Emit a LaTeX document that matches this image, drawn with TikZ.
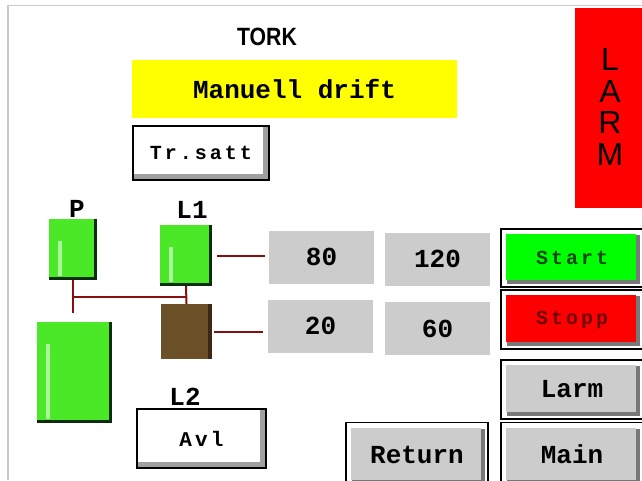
\documentclass[tikz,border=0pt]{standalone}
\usepackage{fontspec}
\usepackage{tikz}
\newfontfamily\pixfam{Liberation Mono}
\newfontfamily\pixspfam{Liberation Mono}[LetterSpace=15]
\newfontfamily\headfam{Liberation Sans}[FakeStretch=0.85]
\newfontfamily\larmfam{Liberation Sans}
\definecolor{framegray}{RGB}{200,202,200}
\definecolor{modeyellow}{RGB}{255,255,0}
\definecolor{alarmred}{RGB}{255,0,0}
\definecolor{tankgreen}{RGB}{75,232,40}
\definecolor{tankdark}{RGB}{10,45,10}
\definecolor{valvebrown}{RGB}{108,80,40}
\definecolor{valvedark}{RGB}{60,40,20}
\definecolor{valgray}{RGB}{204,204,204}
\definecolor{btngray}{RGB}{204,204,204}
\definecolor{btnshade}{RGB}{120,120,120}
\definecolor{pipered}{RGB}{135,15,15}
\definecolor{startgreen}{RGB}{0,255,0}
\definecolor{starttext}{RGB}{20,70,20}
\definecolor{stopptext}{RGB}{110,0,0}

\begin{document}
\begin{tikzpicture}[x=1pt,y=-1pt,
  pix/.style={font=\pixfam\bfseries\fontsize{26}{26}\selectfont},
  pixsp/.style={font=\pixspfam\bfseries\fontsize{#1}{#1}\selectfont},
  tank/.style={shape=rectangle,inner sep=0pt,fill=tankgreen,path picture={
    \fill[white,opacity=0.55] ([shift={(9pt,-22pt)}]path picture bounding box.north west) rectangle ([shift={(13pt,4pt)}]path picture bounding box.south west);
    \fill[tankdark] ([xshift=-3pt]path picture bounding box.north east) rectangle (path picture bounding box.south east);
    \fill[tankdark] ([yshift=3pt]path picture bounding box.south west) rectangle (path picture bounding box.south east);}},
  valve/.style={shape=rectangle,inner sep=0pt,fill=valvebrown,path picture={
    \fill[valvedark] ([xshift=-4pt]path picture bounding box.north east) rectangle (path picture bounding box.south east);}},
  valbox/.style={shape=rectangle,inner sep=0pt,fill=valgray,minimum width=105pt,minimum height=53pt,pix},
  key/.style={shape=rectangle,inner sep=0pt,draw=black,line width=1.5pt,fill=white,path picture={
    \fill[btnshade!70] ([xshift=-6pt]path picture bounding box.north east) rectangle (path picture bounding box.south east);
    \fill[btnshade!70] ([yshift=6pt]path picture bounding box.south west) rectangle (path picture bounding box.south east);}},
  btn/.style={shape=rectangle,inner sep=0pt,draw=black,line width=1.2pt,fill=white,path picture={
    \fill[btnshade] ([shift={(6pt,-6pt)}]path picture bounding box.north west) rectangle ([shift={(-3pt,3pt)}]path picture bounding box.south east);
    \fill[#1] ([shift={(5pt,-5pt)}]path picture bounding box.north west) rectangle ([shift={(-7pt,7pt)}]path picture bounding box.south east);}},
  pipe/.style={draw=pipered,line width=2pt}]
\def\bw{142pt};
\def\bh{59pt};

\useasboundingbox (0,0) rectangle (642,480);
\fill[white] (0,0) rectangle (642,480);
\draw[framegray,line width=2pt] (8,480) -- (8,5);
\draw[framegray,line width=1pt] (8,5) -- (642,5);

\node[font=\headfam\bfseries\fontsize{25}{25}\selectfont] (tork) at (267,37) {TORK};
\node[shape=rectangle,fill=modeyellow,minimum width=325pt,minimum height=58pt,pix] (mode) at (294.5,89) {Manuell drift};
\node[key,minimum width=136pt,minimum height=54pt,pixsp=20] (trsatt) at (201,153) {Tr.satt};
\node[shape=rectangle,fill=alarmred,minimum width=68pt,minimum height=200pt] (alarm) at (608.5,108) {};
\node[align=center,font=\larmfam\fontsize{32}{31.7}\selectfont] (alarmtxt) at (610,107) {L\\A\\R\\M};

\node[pix] (lblP) at (77,209) {P};
\node[pix] (lblL1) at (192,210) {L1};
\node[pix] (lblL2) at (185,397) {L2};

\node[tank,minimum width=48pt,minimum height=61pt] (tankP) at (73,249.5) {};
\node[tank,minimum width=52pt,minimum height=61pt] (tankL1) at (186,255.5) {};
\node[tank,minimum width=75pt,minimum height=101pt] (tankBig) at (74.5,372.5) {};
\node[valve,minimum width=51pt,minimum height=55pt] (valveL1) at (186.5,331.5) {};

\node[valbox] (setA) at (321.5,257) {80};
\node[valbox] (setB) at (437.5,259) {120};
\node[valbox] (setC) at (320.5,326) {20};
\node[valbox] (setD) at (437.5,328.5) {60};

\node[btn=startgreen,minimum width=\bw,minimum height=58pt,pixsp=20,text=starttext] (start) at (572,258) {Start};
\node[btn=alarmred,minimum width=\bw,minimum height=\bh,pixsp=20,text=stopptext] (stopp) at (572,319.5) {Stopp};
\node[btn=btngray,minimum width=\bw,minimum height=\bh,pix] (larm) at (572,389.5) {Larm};
\node[btn=btngray,minimum width=\bw,minimum height=64pt,pix] (main) at (572,454.5) {Main};
\node[btn=btngray,minimum width=\bw,minimum height=64pt,pix] (return) at (417,454.5) {Return};
\node[key,minimum width=129pt,minimum height=59pt,pixsp=21] (avl) at (201.5,438.5) {Avl};

\coordinate (jP) at (73,297);
\draw[pipe,shorten >=9pt] (tankP.south) -- (tankP.south |- tankBig.north);
\draw[pipe] (jP) -- (jP -| tankL1.south);
\draw[pipe] (tankL1.south) -- (valveL1.north);
\draw[pipe,shorten <=5pt,shorten >=4pt] (tankL1.east) -- (setA.west |- tankL1.east);
\draw[pipe,shorten <=2pt,shorten >=5pt] (valveL1.east) -- (setC.west |- valveL1.east);
\end{tikzpicture}
\end{document}
